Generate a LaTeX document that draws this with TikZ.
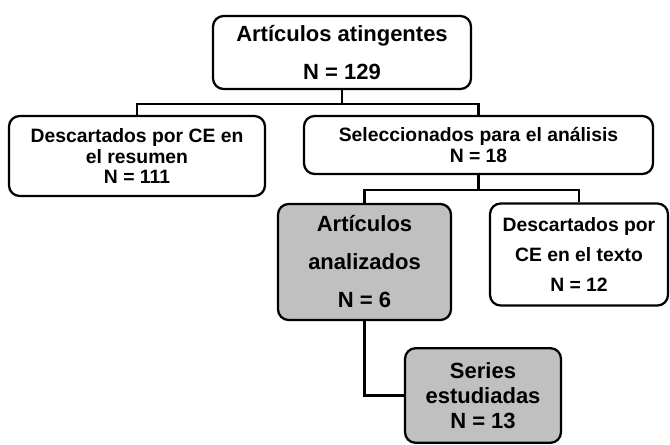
\documentclass[tikz,border=0pt]{standalone}
\usepackage{fontspec}
\setmainfont{Liberation Sans}
\usepackage{tikz}
\definecolor{boxgray}{HTML}{C0C0C0}

\begin{document}
\begin{tikzpicture}[x=0.75pt, y=-0.75pt,
    box/.style={draw, line width=1.7pt, rounded corners=8pt, align=center, inner sep=0pt},
    bigtext/.style={font=\fontsize{16.5}{28.5}\selectfont\bfseries},
    smalltext/.style={font=\fontsize{14.5}{15.6}\selectfont\bfseries},
    conn/.style={line width=1.7pt}]
        \useasboundingbox (0,0) rectangle (670,445);

        % Nodes
        \node[box, bigtext, minimum width=193.5pt, minimum height=54.75pt] (top) at (342, 52.5) {Artículos atingentes\\N = 129};
        \node[box, smalltext, minimum width=192pt, minimum height=60pt] (left) at (137, 156) {Descartados por CE en\\el resumen\\N = 111};
        \node[box, smalltext, minimum width=261.75pt, minimum height=43.5pt] (sel) at (478.5, 145) {Seleccionados para el análisis\\N = 18};
        \node[box, bigtext, fill=boxgray, minimum width=129.75pt, minimum height=87pt] (anal) at (364.5, 262) {Artículos\\analizados\\N = 6};
        \node[box, smalltext, font=\fontsize{14.5}{22.5}\selectfont\bfseries, minimum width=133.5pt, minimum height=76.5pt] (desc) at (579, 254.5) {Descartados por\\CE en el texto\\N = 12};
        \node[box, bigtext, font=\fontsize{16.5}{19}\selectfont\bfseries, fill=boxgray, minimum width=117pt, minimum height=71pt] (series) at (483, 395.5) {Series\\estudiadas\\N = 13};

        % Edges
        \draw[conn] (top.south) -- ++(0,14) coordinate (j1);
        \draw[conn] (left.north) |- (j1) -| (sel.north);
        \draw[conn] (sel.south) -- ++(0,15) coordinate (j2);
        \draw[conn] (anal.north) |- (j2) -| (desc.north);
        \draw[conn] (anal.south) |- (series.west);
    \end{tikzpicture}
\end{document}
